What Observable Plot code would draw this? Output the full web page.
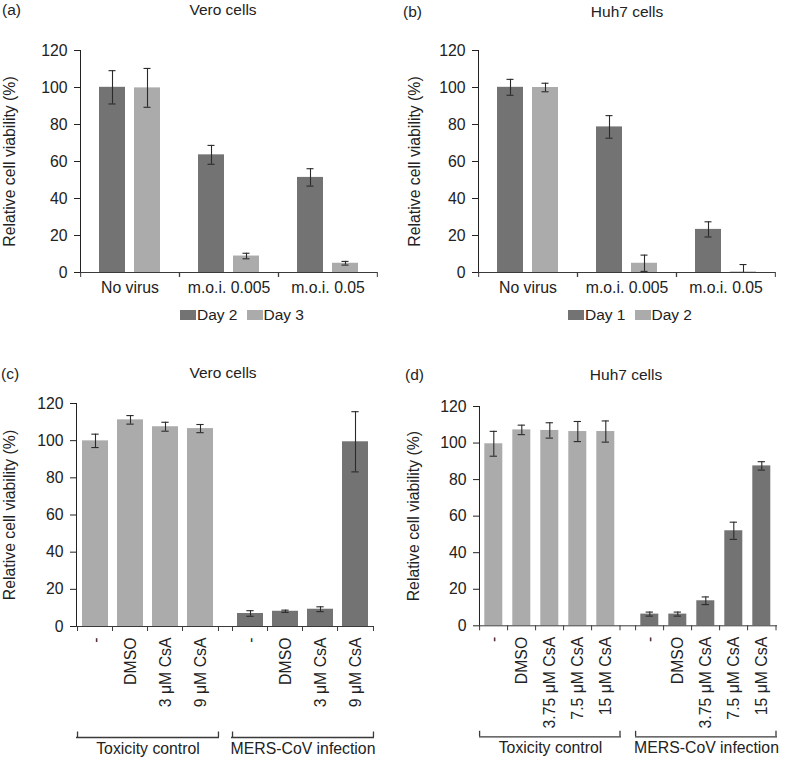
<!DOCTYPE html>
<html><head><meta charset="utf-8">
<script src="https://cdn.jsdelivr.net/npm/d3@7"></script>
<script src="https://cdn.jsdelivr.net/npm/@observablehq/plot@0.6"></script>
<style>
body{margin:0;background:#fff;}
#root{position:relative;width:787px;height:761px;font-family:"Liberation Sans",Arial,Helvetica,sans-serif;color:#222;overflow:hidden;}
.t{position:absolute;font-size:15.5px;line-height:1;white-space:nowrap;}
.c{transform:translateX(-50%);}
.panel{position:absolute;}
.lg-swatches,.lg-swatches-wrap{font-family:"Liberation Sans",Arial,sans-serif !important;font-size:15.5px !important;color:#222 !important;margin:0 !important;min-height:0 !important;}
.lg-swatch{margin-right:9px !important;}
.lg-swatch > svg{margin-right:1px !important;}
</style></head><body><div id="root"></div>
<script>
const FONT = '"Liberation Sans", Arial, Helvetica, sans-serif';
const DARK = "#737373", LIGHT = "#ababab", AX = "#3a3a3a", ERR = "#2a2a2a";
const yTicks = [0, 20, 40, 60, 80, 100, 120];
const yLabel = "Relative cell viability (%)";

// (a) Vero cells — infection time course
const aCategories = ["No virus", "m.o.i. 0.005", "m.o.i. 0.05"];
const aDays = ["Day 2", "Day 3"];
const aDay2 = [100.1, 63.6, 51.4];
const aDay2Err = [9.0, 5.1, 4.7];
const aDay3 = [99.8, 8.9, 5.0];
const aDay3Err = [10.5, 1.5, 1.0];

// (b) Huh7 cells — infection time course
const bCategories = ["No virus", "m.o.i. 0.005", "m.o.i. 0.05"];
const bDays = ["Day 1", "Day 2"];
const bDay1 = [100.1, 78.7, 23.3];
const bDay1Err = [4.3, 6.1, 4.1];
const bDay2 = [100.0, 5.0, 0.3];
const bDay2Err = [2.3, 4.4, 4.0];

// (c) Vero cells — CsA treatment
const cGroups = ["Toxicity control", "MERS-CoV infection"];
const cLabels = ["-", "DMSO", "3 μM CsA", "9 μM CsA"];
const cToxicity = [99.9, 111.2, 107.5, 106.5];
const cToxicityErr = [3.6, 2.3, 2.4, 2.2];
const cInfection = [7.0, 8.2, 9.3, 99.4];
const cInfectionErr = [1.5, 0.6, 1.3, 16.2];

// (d) Huh7 cells — CsA treatment
const dGroups = ["Toxicity control", "MERS-CoV infection"];
const dLabels = ["-", "DMSO", "3.75 μM CsA", "7.5 μM CsA", "15 μM CsA"];
const dToxicity = [99.6, 107.2, 106.9, 106.3, 106.3];
const dToxicityErr = [6.8, 2.6, 4.2, 5.5, 5.8];
const dInfection = [6.4, 6.4, 13.7, 52.0, 87.5];
const dInfectionErr = [1.1, 1.1, 2.1, 4.7, 2.3];

const baseStyle = {fontFamily: FONT, fontSize: "15.8px", color: "#222", background: "transparent", overflow: "visible"};

function errorMarks(rows, fxKey, xKey, capInset) {
  return [
    Plot.ruleX(rows, {fx: fxKey, x: xKey, y1: d => Math.max(0, d.value - d.err), y2: d => d.value + d.err, stroke: ERR, strokeWidth: 1.1}),
    Plot.tickY(rows, {fx: fxKey, x: xKey, y: d => d.value + d.err, insetLeft: capInset, insetRight: capInset, stroke: ERR, strokeWidth: 1.1}),
    Plot.tickY(rows.filter(d => d.value - d.err > 0), {fx: fxKey, x: xKey, y: d => d.value - d.err, insetLeft: capInset, insetRight: capInset, stroke: ERR, strokeWidth: 1.1})
  ];
}

function yAxis(labelOffset) {
  return {domain: [0, 120], ticks: yTicks, tickSize: 6, tickPadding: 7, line: true, label: yLabel, labelAnchor: "center", labelArrow: "none", labelOffset};
}

function groupedPanel(o) {
  const {categories, days, values, errs, colors, width, height, marginTop, marginBottom, marginLeft, marginRight, barWidth, labelOffset} = o;
  const rows = [];
  categories.forEach((c, i) => days.forEach((d, j) => rows.push({cat: c, day: d, value: values[j][i], err: errs[j][i]})));
  const W = (width - marginLeft - marginRight) / categories.length;
  const pi = 0.25;
  const s = barWidth / (1 - pi);
  const po = (W / s - days.length + pi) / 2;
  const edge = W / 2 - s / 2;
  const capInset = (barWidth - 8) / 2;
  return Plot.plot({
    width, height, marginTop, marginBottom, marginLeft, marginRight,
    style: baseStyle,
    fx: {domain: categories, padding: 0, axis: "bottom", label: null, tickSize: 0, tickPadding: 9},
    x: {domain: days, paddingInner: pi, paddingOuter: po, axis: null},
    y: yAxis(labelOffset),
    color: {domain: days, range: colors},
    marks: [
      Plot.barY(rows, {fx: "cat", x: "day", y: "value", fill: "day"}),
      Plot.ruleY([0], {stroke: AX}),
      Plot.ruleX([days[0]], {x: d => d, y1: 0, y2: 0, insetTop: 5, dx: -edge, stroke: AX}),
      Plot.ruleX([days[days.length - 1]], {x: d => d, y1: 0, y2: 0, insetTop: 5, dx: edge, stroke: AX}),
      ...errorMarks(rows, "cat", "day", capInset)
    ]
  });
}

function treatmentPanel(o) {
  const {groups, labels, values, errs, colors, width, height, marginTop, marginBottom, marginLeft, marginRight, barWidth, gap, labelOffset} = o;
  const rows = [];
  groups.forEach((g, gi) => labels.forEach((l, li) => rows.push({group: g, label: l, value: values[gi][li], err: errs[gi][li]})));
  const R = width - marginLeft - marginRight;
  const fxPad = 2 * gap / (R + gap);
  const FW = (R - gap) / 2;
  const s = FW / labels.length;
  const pi = 1 - barWidth / s;
  const capInset = (barWidth - 8) / 2;
  const last = labels[labels.length - 1];
  return Plot.plot({
    width, height, marginTop, marginBottom, marginLeft, marginRight,
    style: baseStyle,
    fx: {domain: groups, paddingInner: fxPad, paddingOuter: 0, axis: "bottom", label: null, tickSize: 0, tickPadding: 116},
    x: {domain: labels, paddingInner: pi, paddingOuter: pi / 2, tickRotate: -90, tickSize: 0, tickPadding: 11, label: null},
    y: yAxis(labelOffset),
    color: {domain: groups, range: colors},
    marks: [
      Plot.barY(rows, {fx: "group", x: "label", y: "value", fill: "group"}),
      Plot.ruleY([groups[0]], {fx: d => d, y: 0, insetRight: -gap, stroke: AX}),
      Plot.ruleY([groups[1]], {fx: d => d, y: 0, stroke: AX}),
      Plot.ruleX(labels, {x: d => d, y1: 0, y2: 0, insetTop: 5, dx: -s / 2, stroke: AX}),
      Plot.ruleX([last], {x: d => d, y1: 0, y2: 0, insetTop: 5, dx: s / 2, stroke: AX}),
      // group brackets
      Plot.ruleY([0], {dy: 111, stroke: AX, strokeWidth: 1.3}),
      Plot.ruleX([labels[0]], {x: d => d, y1: 0, y2: 0, insetTop: -5.5, dy: 111, dx: -s / 2, stroke: AX, strokeWidth: 1.3}),
      Plot.ruleX([last], {x: d => d, y1: 0, y2: 0, insetTop: -5.5, dy: 111, dx: s / 2, stroke: AX, strokeWidth: 1.3}),
      ...errorMarks(rows, "group", "label", capInset)
    ]
  });
}

const root = document.getElementById("root");
function place(node, left, top) {
  const div = document.createElement("div");
  div.className = "panel";
  div.style.left = left + "px";
  div.style.top = top + "px";
  div.appendChild(node);
  root.appendChild(div);
  return div;
}
function text(str, left, top, center) {
  const div = document.createElement("div");
  div.className = "t" + (center ? " c" : "");
  div.style.left = left + "px";
  div.style.top = top + "px";
  div.textContent = str;
  root.appendChild(div);
}
function legend(domain, range, left, top) {
  const node = Plot.legend({color: {domain, range}, legend: "swatches", swatchWidth: 16, swatchHeight: 10, className: "lg"});
  place(node, left, top);
}

// Titles
text("(a)", 2, 2); text("Vero cells", 223, 2, true);
text("(b)", 403, 4); text("Huh7 cells", 627, 4, true);
text("(c)", 1, 366); text("Vero cells", 223, 365, true);
text("(d)", 405, 367); text("Huh7 cells", 626, 367, true);

place(groupedPanel({
  categories: aCategories, days: aDays, values: [aDay2, aDay3], errs: [aDay2Err, aDay3Err], colors: [DARK, LIGHT],
  width: 390, height: 270, marginTop: 10, marginBottom: 38, marginLeft: 79, marginRight: 12, barWidth: 27, labelOffset: 77
}), 0, 40);
place(groupedPanel({
  categories: bCategories, days: bDays, values: [bDay1, bDay2], errs: [bDay1Err, bDay2Err], colors: [DARK, LIGHT],
  width: 397, height: 270, marginTop: 10, marginBottom: 38, marginLeft: 87, marginRight: 11, barWidth: 27, labelOffset: 70
}), 390, 40);
place(treatmentPanel({
  groups: cGroups, labels: cLabels, values: [cToxicity, cInfection], errs: [cToxicityErr, cInfectionErr], colors: [LIGHT, DARK],
  width: 390, height: 371, marginTop: 13, marginBottom: 135, marginLeft: 75, marginRight: 15.5, barWidth: 26.7, gap: 12, labelOffset: 73
}), 0, 390);
place(treatmentPanel({
  groups: dGroups, labels: dLabels, values: [dToxicity, dInfection], errs: [dToxicityErr, dInfectionErr], colors: [LIGHT, DARK],
  width: 397, height: 371, marginTop: 16, marginBottom: 135.7, marginLeft: 88.7, marginRight: 10.3, barWidth: 18.7, gap: 14, labelOffset: 72
}), 390, 390);

legend(aDays, [DARK, LIGHT], 180, 306);
legend(bDays, [DARK, LIGHT], 568, 306);
</script></body></html>
